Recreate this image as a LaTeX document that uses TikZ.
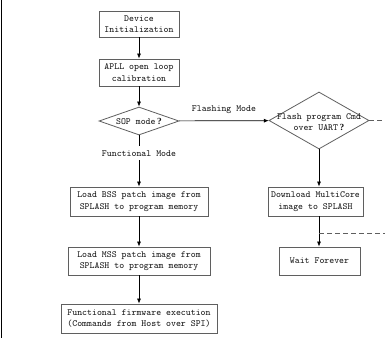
\documentclass[tikz,border=0pt]{standalone}
\usepackage{fontspec}
\newfontfamily\qfont{Liberation Serif}
\newcommand{\qm}{\,{\qfont\bfseries ?}}
\usetikzlibrary{shapes.geometric,arrows.meta}
\definecolor{boxgray}{RGB}{95,95,95}
\definecolor{txtgray}{RGB}{25,25,25}
\begin{document}
\begin{tikzpicture}[x=1pt,y=-1pt,
  every node/.style={text=txtgray, font=\ttfamily\fontsize{9.4}{11.5}\selectfont},
  box/.style={draw=boxgray, line width=0.8pt, align=center, inner sep=0pt},
  dia/.style={draw=boxgray, line width=0.8pt, shape=diamond, inner sep=0pt},
  lbl/.style={align=center, inner sep=0pt},
  arr/.style={draw=black, line width=0.7pt, -{Latex[length=5pt,width=4pt]}},
  dashln/.style={draw=boxgray, line width=0.7pt, dash pattern=on 5pt off 3pt}]
\useasboundingbox (0,0) rectangle (385,338);
\fill[white] (0,0) rectangle (385,338);
\draw[line width=1.5pt] (1.5,0) -- (1.5,338);

\node[box, minimum width=80pt, minimum height=26pt] (dev) at (139,24) {Device\\Initialization};
\node[box, minimum width=80pt, minimum height=27pt] (apll) at (139,72.5) {APLL open loop\\calibration};
\node[dia, minimum width=80pt, minimum height=28pt] (sop) at (139,121) {};
\node[lbl] (sopt) at (139,121) {SOP mode\qm};
\node[box, minimum width=138pt, minimum height=29pt] (bss) at (139,201.5) {Load BSS patch image from\\SPLASH to program memory};
\node[box, minimum width=142pt, minimum height=28pt] (mss) at (139,261) {Load MSS patch image from\\SPLASH to program memory};
\node[box, minimum width=156pt, minimum height=29pt] (func) at (139,318.5) {Functional firmware execution\\(Commands from Host over SPI)};

\node[dia, minimum width=100pt, minimum height=57pt] (flash) at (319,120.5) {};
\node[lbl] (flasht) at (319,122) {Flash program Cmd\\over UART\qm};
\node[box, minimum width=95pt, minimum height=29pt] (dl) at (315.5,201.5) {Download MultiCore\\image to SPLASH};
\node[box, minimum width=81pt, minimum height=28pt] (wait) at (319.5,261) {Wait Forever};

\coordinate (e1) at (385,120.5);
\coordinate (j2) at (319,233);
\coordinate (e2) at (385,233);

\draw[arr] (dev) -- (apll);
\draw[arr] (apll) -- (sop);
\draw[arr] (sop) -- node[lbl, fill=white, inner ysep=4pt, pos=0.35] (fm) {Functional Mode} (bss);
\draw[arr] (bss) -- (mss);
\draw[arr] (mss) -- (func);
\draw[arr] (sop) -- node[lbl, above=7pt] (flm) {Flashing Mode} (flash);
\draw[arr] (flash) -- (flash.south |- dl.north);
\draw[arr] (flash.south |- dl.south) -- (flash.south |- wait.north);
\draw[dashln] (flash.east) -- (e1);
\draw[dashln] (j2) -- (e2);
\end{tikzpicture}
\end{document}
